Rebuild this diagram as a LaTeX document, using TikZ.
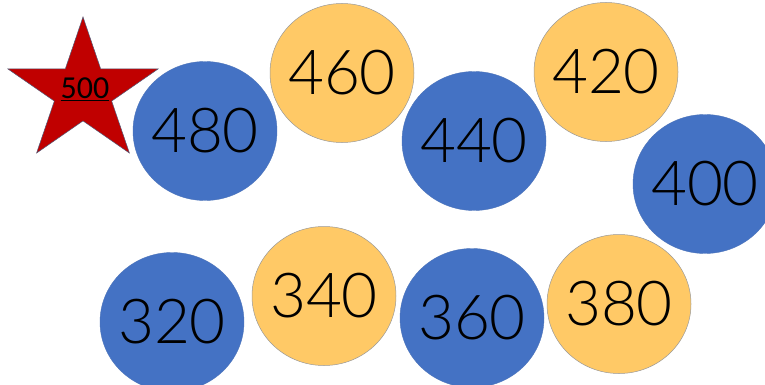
\documentclass[tikz,border=0pt]{standalone}
\usepackage{fontspec}
\setmainfont{Lato Light}
\newfontfamily\starfont{Carlito}
\usetikzlibrary{shapes.geometric}
\definecolor{coinblue}{RGB}{68,114,196}
\definecolor{coingold}{RGB}{255,201,102}
\definecolor{starred}{RGB}{192,0,0}
\definecolor{staredge}{RGB}{80,90,120}
\tikzset{
  coin/.style={ellipse, minimum width=144pt, minimum height=139pt, inner sep=0pt,
    font=\fontsize{62}{62}\selectfont, text=black},
  bluecoin/.style={coin, fill=coinblue, draw=coinblue!85!gray, line width=0.4pt},
  goldcoin/.style={coin, fill=coingold, draw=gray!80, line width=0.5pt},
}
\newcommand{\cointext}[1]{\makebox[0pt]{#1}}
\begin{document}
\begin{tikzpicture}[x=1pt,y=-1pt]
\useasboundingbox[fill=white] (0,0) rectangle (765,385);
\coordinate (stc) at (83,92.2);
\draw[fill=starred, draw=staredge, line width=0.5pt, shift={(stc)}, xscale=1.05]
  (-90:75.2) -- (-54:28.7) -- (-18:75.2) -- (18:28.7) -- (54:75.2) -- (90:28.7)
  -- (126:75.2) -- (162:28.7) -- (198:75.2) -- (234:28.7) -- cycle;
\node[font=\starfont\fontsize{32}{32}\selectfont, inner sep=0pt] (t500) at (85,89) {\underline{500}};
\node[bluecoin] (c480) at (205,131) {\cointext{480}};
\node[goldcoin] (c460) at (342,73) {\cointext{460}};
\node[bluecoin] (c440) at (474,141) {\cointext{440}};
\node[goldcoin] (c420) at (606,72) {\cointext{420}};
\node[bluecoin] (c400) at (705,184) {\cointext{400}};
\node[bluecoin] (c320) at (172,322) {\cointext{320}};
\node[goldcoin] (c340) at (324,296) {\cointext{340}};
\node[bluecoin] (c360) at (472,318) {\cointext{360}};
\node[goldcoin] (c380) at (619,304) {\cointext{380}};
\end{tikzpicture}
\end{document}
